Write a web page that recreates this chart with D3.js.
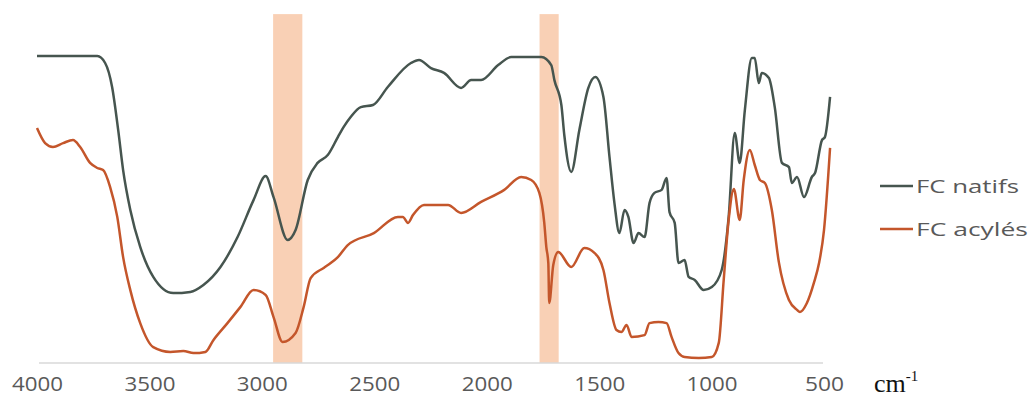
<!DOCTYPE html>
<html>
<head>
<meta charset="utf-8">
<title>FTIR FC natifs / FC acylés</title>
<script src="https://d3js.org/d3.v7.min.js"></script>
<style>
  html, body { margin: 0; padding: 0; background: #fff; }
  .tick text { font-family: "Open Sans", sans-serif; fill: #595959; }
  .legend text { font-family: "Open Sans", sans-serif; fill: #595959; }
</style>
</head>
<body>
<div id="chart"></div>
<script>
// wavenumber (cm-1) and transmittance (a.u.)
const natifsWn = [4000, 3732, 3697, 3666, 3639, 3617, 3585, 3541, 3483, 3394, 3318, 3260, 3184, 3108, 3037, 2983, 2948, 2885, 2850, 2796, 2752, 2707, 2662, 2636, 2605, 2560, 2506, 2440, 2337, 2301, 2248, 2190, 2114, 2069, 2025, 1949, 1891, 1757, 1713, 1699, 1668, 1655, 1624, 1588, 1548, 1517, 1481, 1454, 1432, 1410, 1387, 1370, 1347, 1325, 1298, 1276, 1254, 1222, 1200, 1187, 1164, 1147, 1120, 1102, 1075, 1035, 999, 955, 924, 897, 875, 852, 821, 808, 790, 777, 745, 719, 687, 656, 643, 620, 589, 554, 540, 509, 496, 473];
const natifsT = [102.3, 102.3, 100, 92, 77.7, 64.3, 51, 38.7, 28.7, 23.3, 23.7, 26, 32, 42, 54.3, 62.3, 55.3, 41, 44.3, 61, 66.7, 69.3, 75.3, 78.7, 82, 85.3, 86, 92, 100, 101, 98.3, 96.7, 91.7, 94.3, 94.3, 99.3, 102, 102, 99.3, 94.3, 86, 76, 63.7, 77.7, 91.7, 95.3, 88.7, 68.7, 53.3, 43.3, 51, 48.7, 40, 43.3, 42, 53.3, 56.7, 57.7, 61.7, 50.3, 46.7, 33.3, 34.3, 28.7, 27.7, 24.3, 25.3, 31, 48.7, 76.7, 66.7, 84.3, 101.7, 101.7, 93.3, 96.7, 95, 85.3, 66.7, 65.3, 60, 62, 55.3, 62, 63.3, 74.3, 75.3, 88.7];

const acylesWn = [4000, 3964, 3929, 3884, 3840, 3808, 3764, 3732, 3706, 3675, 3643, 3617, 3585, 3541, 3483, 3407, 3349, 3304, 3251, 3215, 3153, 3095, 3037, 2983, 2948, 2908, 2850, 2814, 2783, 2725, 2694, 2662, 2618, 2502, 2395, 2373, 2350, 2328, 2279, 2172, 2114, 2025, 1922, 1847, 1802, 1766, 1744, 1735, 1726, 1722, 1704, 1682, 1624, 1566, 1521, 1481, 1454, 1423, 1401, 1378, 1356, 1298, 1276, 1236, 1200, 1178, 1147, 1120, 1057, 999, 968, 946, 924, 901, 875, 857, 830, 808, 785, 763, 732, 701, 656, 620, 607, 576, 545, 522, 500, 473];
const acylesT = [78.3, 73.3, 72, 73.3, 74.3, 72, 66.7, 65, 64.3, 58.7, 48.7, 35.3, 24.3, 13.3, 5.3, 3.7, 4, 3.3, 3.7, 7.7, 13.3, 18.7, 24.3, 22.7, 15.3, 7, 10, 18.7, 28.3, 31.7, 33.3, 35.3, 39.3, 43.3, 48.7, 48.7, 46.7, 49.3, 52.7, 52.7, 50, 53.7, 57.7, 62, 61, 56.7, 46.7, 38.7, 33.3, 20, 32.7, 37, 32, 38.3, 36.7, 31, 20, 11, 10.3, 12.7, 8.7, 9.3, 13.3, 13.7, 13.3, 8.7, 3.3, 2, 1.7, 2, 6.7, 27.7, 47.7, 58, 47.7, 61, 71, 66, 61, 60, 51, 33.7, 21, 17.7, 17, 20, 26.7, 33.3, 44.3, 71.7];

const xTicks = [4000, 3500, 3000, 2500, 2000, 1500, 1000, 500];
// highlighted regions (C-H stretch and C=O ester)
const bandsFrom = [2950, 1765];
const bandsTo = [2820, 1680];

const seriesNames = ["FC natifs", "FC acylés"];
const seriesColors = ["#46554f", "#c4562b"];

const width = 1031, height = 408;

const svg = d3.select("#chart").append("svg")
  .attr("width", width)
  .attr("height", height);

const x = d3.scaleLinear().domain([4000, 500]).range([37, 824]);
const y = d3.scaleLinear().domain([0, 100]).range([363, 63]);

// shaded bands
svg.selectAll("rect.band")
  .data(bandsFrom.map((d, i) => [d, bandsTo[i]]))
  .enter().append("rect")
  .attr("class", "band")
  .attr("x", d => x(d[0]))
  .attr("width", d => x(d[1]) - x(d[0]))
  .attr("y", y(116.3))
  .attr("height", y(0) - y(116.3))
  .attr("fill", "#f8cbad")
  .attr("opacity", 0.9);

// baseline
svg.append("line")
  .attr("x1", 39).attr("x2", 823)
  .attr("y1", y(0)).attr("y2", y(0))
  .attr("stroke", "#d9d9d9")
  .attr("stroke-width", 1.5);

const line = d3.line()
  .x(d => x(d[0]))
  .y(d => y(d[1]))
  .curve(d3.curveMonotoneX);

const series = [
  natifsWn.map((d, i) => [d, natifsT[i]]),
  acylesWn.map((d, i) => [d, acylesT[i]])
];

svg.selectAll("path.spec")
  .data(series)
  .enter().append("path")
  .attr("class", "spec")
  .attr("d", line)
  .attr("fill", "none")
  .attr("stroke", (d, i) => seriesColors[i])
  .attr("stroke-width", 2.5)
  .attr("stroke-linejoin", "round");

// x axis, labels only
const xAxis = d3.axisBottom(x)
  .tickValues(xTicks)
  .tickFormat(d3.format("d"))
  .tickSize(0)
  .tickPadding(0);
const gx = svg.append("g")
  .attr("transform", "translate(0,377)")
  .call(xAxis);
gx.select(".domain").remove();
gx.selectAll(".tick text")
  .attr("dy", "0.71em")
  .style("font-size", "20px")
  .each(function (d) {
    const n = String(d).length;
    d3.select(this)
      .attr("textLength", n === 4 ? 51 : 39)
      .attr("lengthAdjust", "spacingAndGlyphs");
  });

// unit label
const unit = svg.append("text")
  .attr("x", 874)
  .attr("y", 392)
  .style("font-family", "'Liberation Serif', 'Times New Roman', serif")
  .style("font-size", "26px")
  .attr("fill", "#111");
unit.append("tspan").text("cm");
unit.append("tspan")
  .attr("dy", -11)
  .style("font-size", "15px")
  .text("-1");

// legend
const legend = svg.append("g").attr("class", "legend");
const legendY = [186, 229];
const legendW = [103, 112];
seriesNames.forEach((name, i) => {
  legend.append("line")
    .attr("x1", 880).attr("x2", 913)
    .attr("y1", legendY[i]).attr("y2", legendY[i])
    .attr("stroke", seriesColors[i])
    .attr("stroke-width", 2.5);
  legend.append("text")
    .attr("x", 916)
    .attr("y", legendY[i] + 7)
    .style("font-size", "19px")
    .attr("textLength", legendW[i])
    .attr("lengthAdjust", "spacingAndGlyphs")
    .text(name);
});
</script>
</body>
</html>
